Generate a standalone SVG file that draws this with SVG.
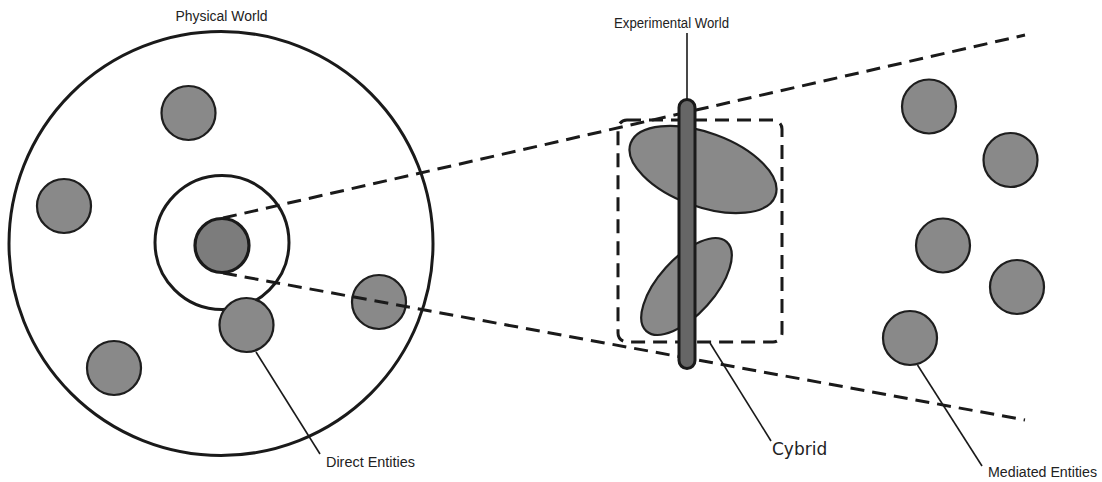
<svg xmlns="http://www.w3.org/2000/svg" width="1102" height="482" viewBox="0 0 1102 482">
<style>
.ent{fill:#898989;stroke:#1e1e1e;stroke-width:2.2}
.ring{fill:none;stroke:#1a1a1a;stroke-width:3}
.dash{fill:none;stroke:#1a1a1a;stroke-width:3;stroke-dasharray:14 8}
.lead{fill:none;stroke:#1a1a1a;stroke-width:1.6}
.lbl{font-family:"Liberation Sans",Arial,sans-serif;font-size:14px;fill:#222}
.cy{font-family:"DejaVu Sans",sans-serif;font-size:17px;fill:#222}
</style>
<rect width="1102" height="482" fill="#fff"/>
<g id="physical-world">
<circle class="ring" cx="221" cy="243.5" r="212"/>
<text class="lbl" x="221.5" y="21" text-anchor="middle" textLength="92" lengthAdjust="spacingAndGlyphs">Physical World</text>
</g>
<g id="inner-ring">
<circle class="ring" cx="222" cy="242.5" r="67"/>
</g>
<g id="direct-entities">
<circle class="ent" cx="188.5" cy="113" r="27"/>
<circle class="ent" cx="64" cy="206" r="27"/>
<circle class="ent" cx="114" cy="368" r="27"/>
<circle class="ent" cx="246.5" cy="325" r="27"/>
<circle class="ent" cx="379" cy="302" r="27"/>
<circle cx="222" cy="245.5" r="27" fill="#7c7c7c" stroke="#1a1a1a" stroke-width="3.2"/>
<text class="lbl" x="326" y="467" textLength="89" lengthAdjust="spacingAndGlyphs">Direct Entities</text>
</g>
<g id="mediated-entities">
<circle class="ent" cx="929" cy="106.5" r="27"/>
<circle class="ent" cx="1010.5" cy="160" r="27"/>
<circle class="ent" cx="943" cy="245.5" r="27"/>
<circle class="ent" cx="1017" cy="287" r="27"/>
<circle class="ent" cx="910" cy="338" r="27"/>
<text class="lbl" x="988" y="477" textLength="109" lengthAdjust="spacingAndGlyphs">Mediated Entities</text>
</g>
<g id="connectors">
<line class="dash" x1="223" y1="218" x2="1025" y2="35"/>
<line class="dash" x1="223" y1="273" x2="1025" y2="420"/>
<line class="lead" x1="256" y1="352" x2="320" y2="454"/>
<line class="lead" x1="917.5" y1="365" x2="982" y2="466"/>
<line class="lead" x1="710" y1="343" x2="771" y2="441"/>
<line class="lead" x1="687" y1="33" x2="687" y2="100"/>
</g>
<g id="cybrid">
<rect class="dash" x="618" y="120" width="164" height="222" rx="9" stroke-dasharray="13 7"/>
<ellipse class="ent" cx="703" cy="169.5" rx="77" ry="37" transform="rotate(20 703 169.5)"/>
<ellipse class="ent" cx="686.5" cy="286.5" rx="60" ry="28" transform="rotate(-48 686.5 286.5)"/>
<text class="cy" x="772" y="455">Cybrid</text>
</g>
<g id="experimental-world">
<rect x="679" y="99.5" width="16" height="269" rx="8" fill="#666" stroke="#1a1a1a" stroke-width="3"/>
<text class="lbl" x="614" y="28" textLength="115" lengthAdjust="spacingAndGlyphs">Experimental World</text>
</g>
</svg>
